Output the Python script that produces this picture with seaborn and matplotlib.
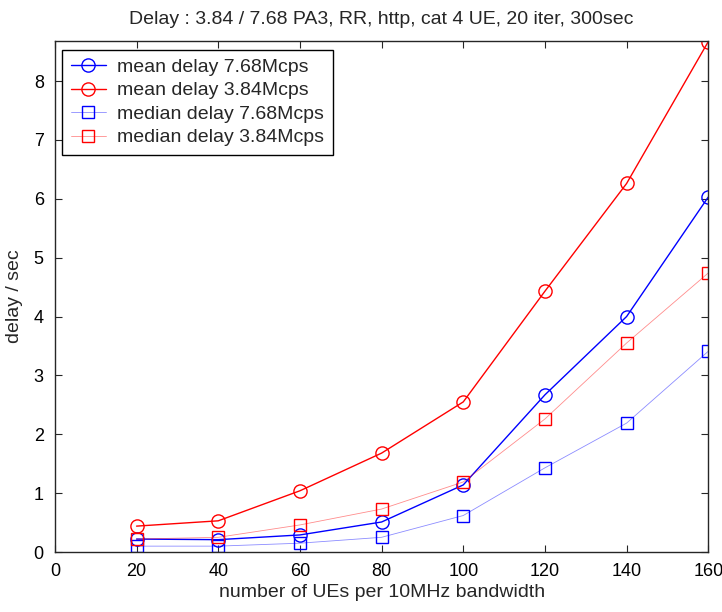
import matplotlib
matplotlib.use("Agg")
import matplotlib.pyplot as plt
import matplotlib.colors as mcolors
from matplotlib.lines import Line2D
import seaborn as sns
import pandas as pd

# Number of UEs per 10 MHz bandwidth
ues = [20, 40, 60, 80, 100, 120, 140, 160]

# Delay in seconds
mean_768 = [0.22, 0.21, 0.29, 0.51, 1.14, 2.67, 4.00, 6.03]
mean_384 = [0.44, 0.53, 1.04, 1.68, 2.55, 4.43, 6.26, 8.67]
median_768 = [0.10, 0.10, 0.15, 0.25, 0.62, 1.43, 2.19, 3.41]
median_384 = [0.22, 0.25, 0.46, 0.73, 1.19, 2.26, 3.55, 4.74]

labels = ["mean delay 7.68Mcps", "mean delay 3.84Mcps",
          "median delay 7.68Mcps", "median delay 3.84Mcps"]

sns.set_theme(style="white")
plt.rcParams["font.family"] = ["Liberation Sans", "DejaVu Sans"]
FS = 14
TICK_FS = 13

fig = plt.figure(figsize=(7.22, 6.12), dpi=100)
ax = fig.add_axes([0.076, 0.098, 0.905, 0.835])

series = [
    (mean_768, labels[0], "#0000ff", "o", 1.0, 1.0),
    (mean_384, labels[1], "#ff0000", "o", 1.0, 1.0),
    (median_768, labels[2], "#0000ff", "s", 0.6, 0.45),
    (median_384, labels[3], "#ff0000", "s", 0.6, 0.45),
]

def msize(mk):
    return 9.5 if mk == "o" else 9

for vals, lab, col, mk, lw, la in series:
    df = pd.DataFrame({"ue": ues, "delay": vals})
    sns.lineplot(data=df, x="ue", y="delay", ax=ax,
                 color=(*mcolors.to_rgb(col), la), linewidth=lw, legend=False)
    ax.plot(ues, vals, linestyle="none", marker=mk, markersize=msize(mk),
            markerfacecolor="none", markeredgecolor=col, markeredgewidth=1.0)

ax.set_xlim(0, 160)
ax.set_ylim(0, 8.68)
ax.set_xticks(range(0, 161, 20))
ax.set_yticks(range(0, 9))
ax.set_xlabel("number of UEs per 10MHz bandwidth", fontsize=FS, labelpad=3)
ax.set_ylabel("delay / sec", fontsize=FS, labelpad=8)
ax.set_title("Delay : 3.84 / 7.68 PA3, RR, http, cat 4 UE, 20 iter, 300sec",
             fontsize=FS, pad=12)

ax.tick_params(direction="in", length=5, width=0.8, colors="#262626",
               top=True, right=True, bottom=True, left=True, labelsize=TICK_FS,
               labelcolor="black")
ax.tick_params(axis="x", pad=8)
ax.tick_params(axis="y", pad=8)
for sp in ax.spines.values():
    sp.set_visible(True)
    sp.set_color("#262626")
    sp.set_linewidth(1.0)

# Legend entries: line with marker
handles = [Line2D([0], [0], color=(*mcolors.to_rgb(col), la), linewidth=lw,
                  marker=mk, markersize=msize(mk),
                  markerfacecolor="none", markeredgecolor=col)
           for vals, lab, col, mk, lw, la in series]
leg = ax.legend(handles, labels, loc="upper left", bbox_to_anchor=(0.011, 0.983),
                frameon=True, fancybox=False, edgecolor="black", framealpha=1,
                handlelength=1.8, handletextpad=0.6, borderpad=0.45, labelspacing=0.3,
                fontsize=FS, borderaxespad=0)
leg.get_frame().set_linewidth(1.0)

fig.savefig("out.png", dpi=100, facecolor="white")
